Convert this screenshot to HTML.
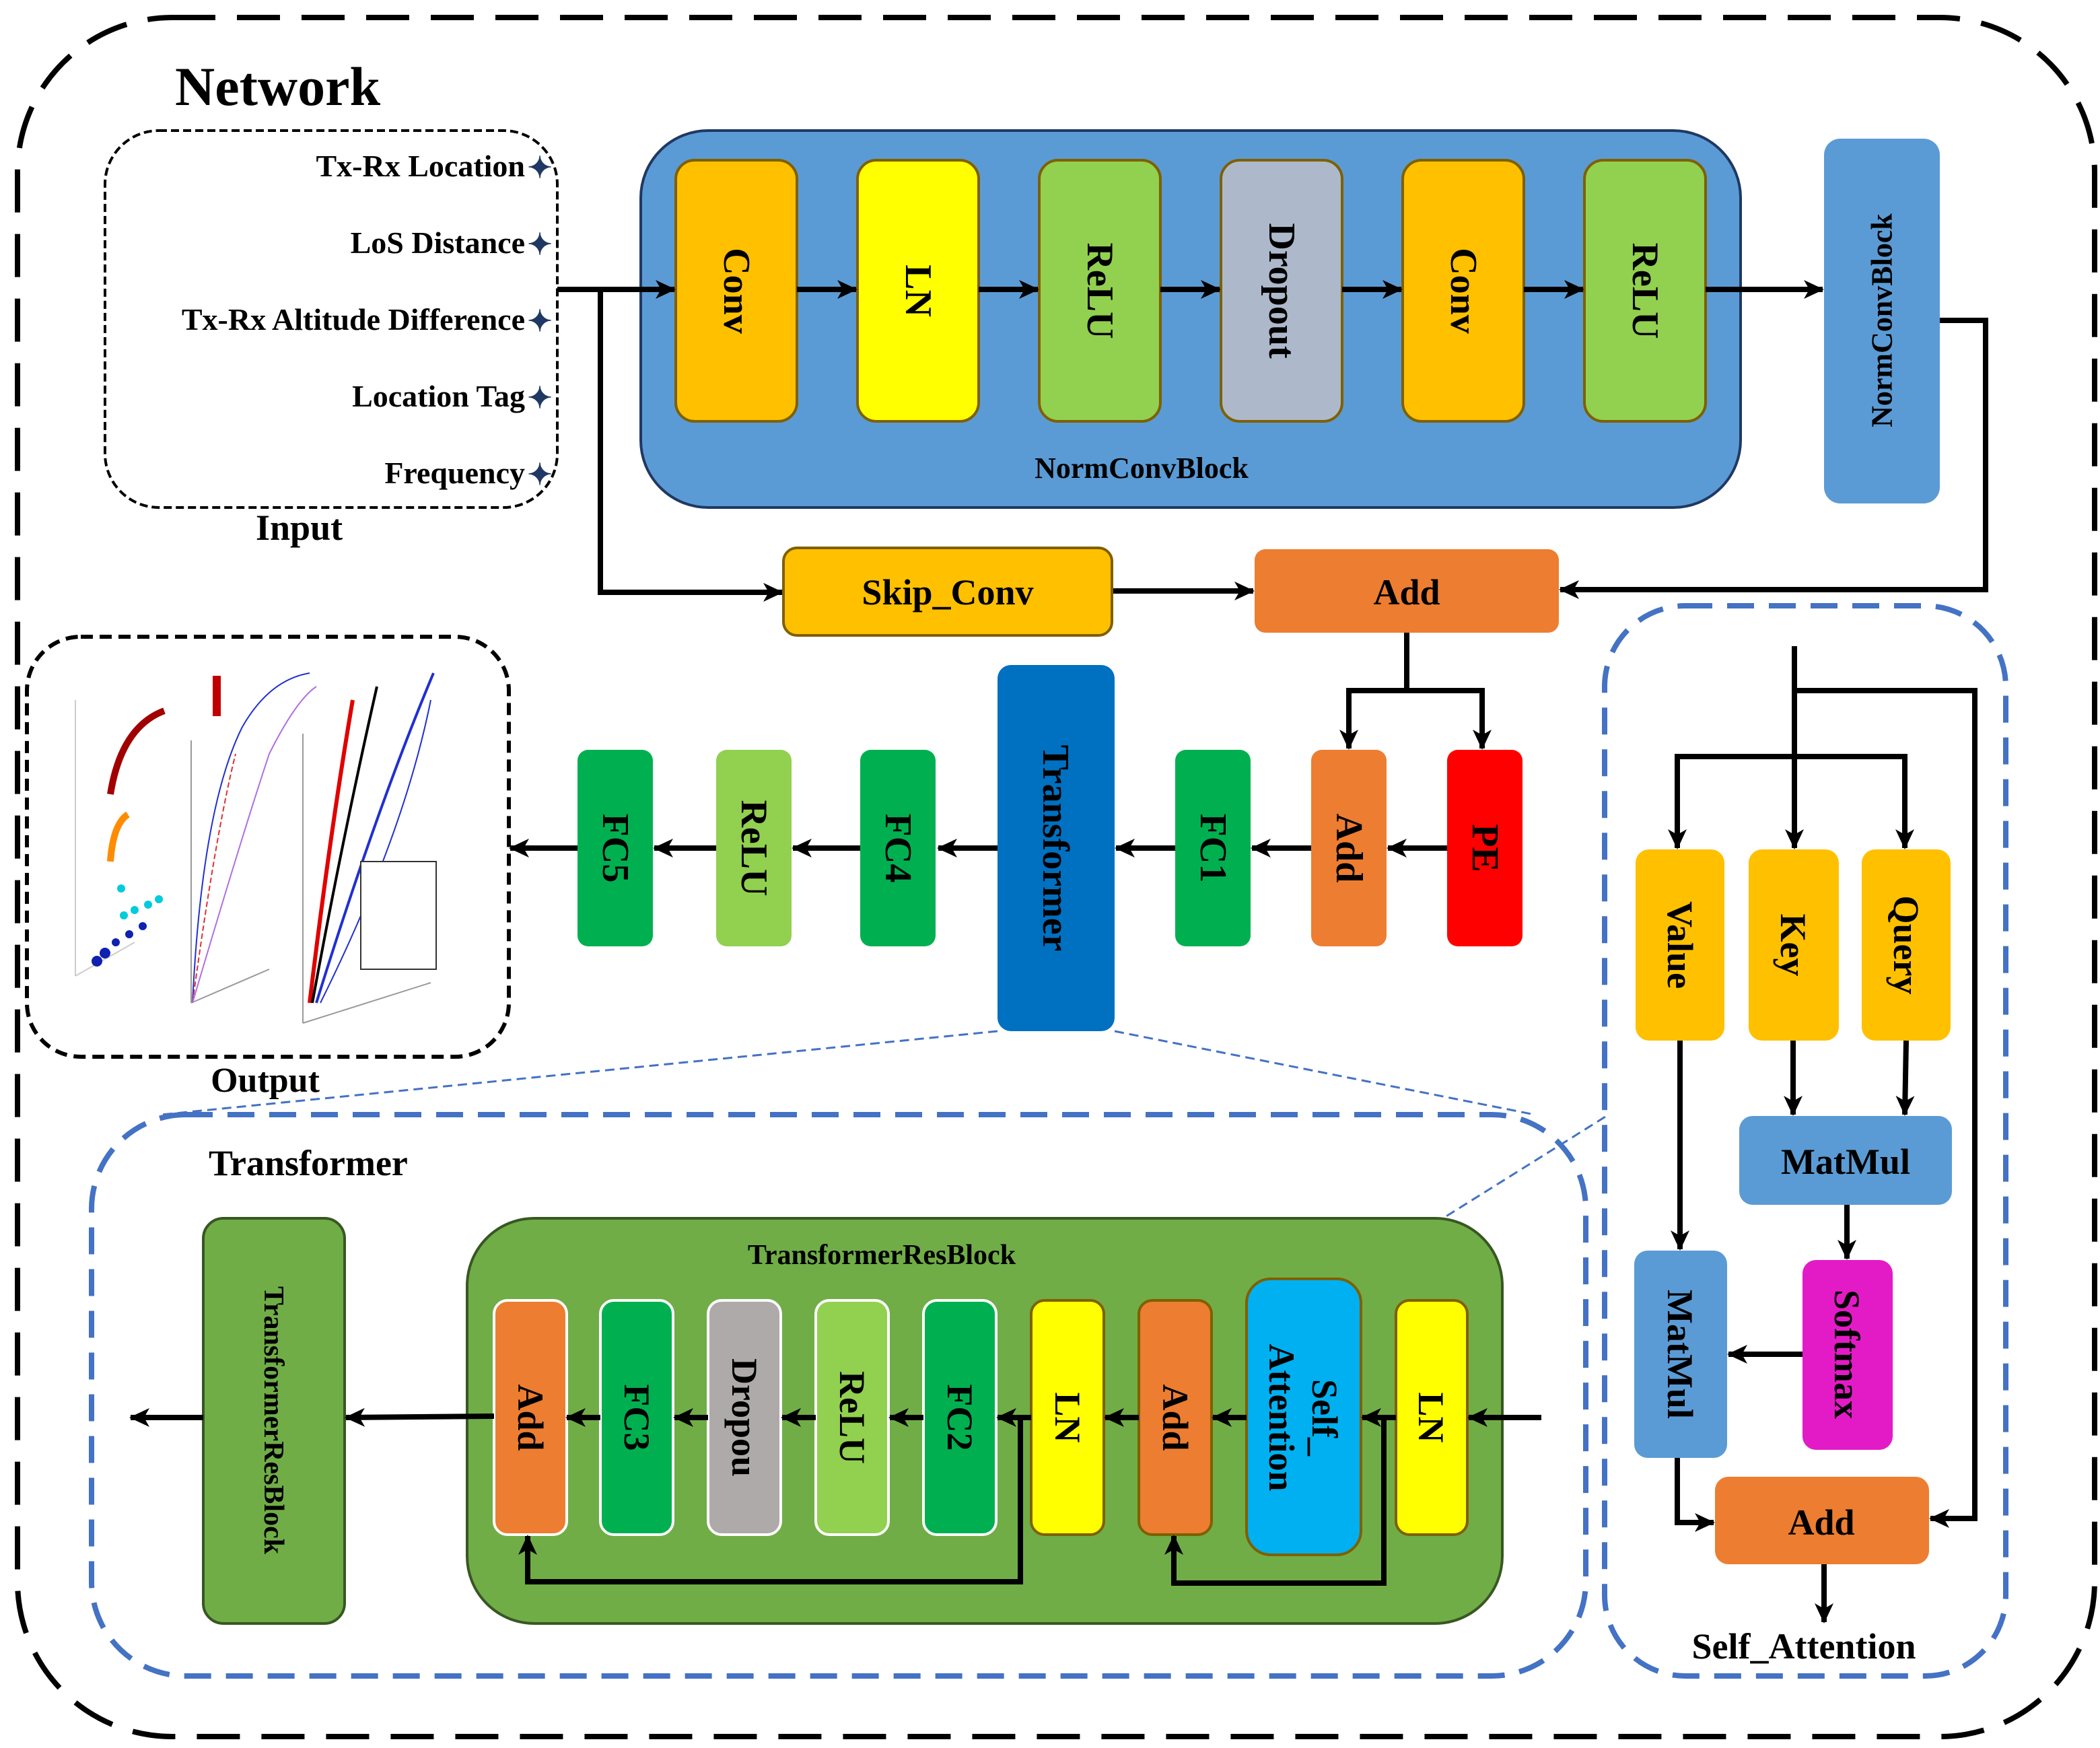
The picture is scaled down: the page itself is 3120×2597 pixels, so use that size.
<!DOCTYPE html>
<html><head><meta charset="utf-8"><style>html,body{margin:0;padding:0;background:#fff}svg{display:block}</style></head>
<body>
<svg width="3120" height="2597" viewBox="0 0 1560 1298.5" xmlns="http://www.w3.org/2000/svg" font-family="Liberation Serif, serif" font-weight="bold">
<defs>
<marker id="a" markerUnits="userSpaceOnUse" markerWidth="16" markerHeight="16" refX="14" refY="8" orient="auto"><path d="M0,1 L15,8 L0,15 L4,8 Z" fill="#000"/></marker>
</defs>
<rect x="0" y="0" width="1560" height="1298.5" fill="#fff"/>
<!-- outer -->
<rect x="13" y="13" width="1543" height="1277" rx="115" fill="none" stroke="#000" stroke-width="4" stroke-dasharray="32,16"/>
<text x="130" y="78" font-size="41">Network</text>

<!-- input -->
<rect x="78" y="97" width="336" height="280" rx="40" fill="none" stroke="#000" stroke-width="2" stroke-dasharray="6,3"/>
<g font-size="23" text-anchor="end">
<text x="390" y="131">Tx-Rx Location</text>
<text x="390" y="188">LoS Distance</text>
<text x="390" y="245">Tx-Rx Altitude Difference</text>
<text x="390" y="302">Location Tag</text>
<text x="390" y="359">Frequency</text>
</g>
<g fill="#1f3864" font-size="22" text-anchor="middle">
<text x="401" y="132">✦</text><text x="401" y="189">✦</text><text x="401" y="246">✦</text><text x="401" y="303">✦</text><text x="401" y="360">✦</text>
</g>
<text x="190" y="401" font-size="27">Input</text>

<!-- normconv -->
<rect x="476" y="97" width="817" height="280" rx="50" fill="#5b9bd5" stroke="#203864" stroke-width="2"/>
<text x="848" y="355" font-size="22" text-anchor="middle">NormConvBlock</text>
<g stroke="#7f6000" stroke-width="2">
<rect x="502" y="119" width="90" height="194" rx="14" fill="#ffc000"/>
<rect x="637" y="119" width="90" height="194" rx="14" fill="#ffff00"/>
<rect x="772" y="119" width="90" height="194" rx="14" fill="#92d050"/>
<rect x="907" y="119" width="90" height="194" rx="14" fill="#adb9ca"/>
<rect x="1042" y="119" width="90" height="194" rx="14" fill="#ffc000"/>
<rect x="1177" y="119" width="90" height="194" rx="14" fill="#92d050"/>
</g>
<g font-size="28" text-anchor="middle" dominant-baseline="central">
<text transform="translate(547,216) rotate(90)">Conv</text>
<text transform="translate(682,216) rotate(90)">LN</text>
<text transform="translate(817,216) rotate(90)">ReLU</text>
<text transform="translate(952,216) rotate(90)">Dropout</text>
<text transform="translate(1087,216) rotate(90)">Conv</text>
<text transform="translate(1222,216) rotate(90)">ReLU</text>
</g>
<rect x="1355" y="103" width="86" height="271" rx="12" fill="#5b9bd5"/>
<text transform="translate(1398,238) rotate(-90)" font-size="22" text-anchor="middle" dominant-baseline="central">NormConvBlock</text>

<g stroke="#000" stroke-width="4" fill="none" marker-end="url(#a)">
<line x1="414" y1="215" x2="501" y2="215"/>
<line x1="592" y1="215" x2="636" y2="215"/>
<line x1="727" y1="215" x2="771" y2="215"/>
<line x1="862" y1="215" x2="906" y2="215"/>
<line x1="997" y1="215" x2="1041" y2="215"/>
<line x1="1132" y1="215" x2="1176" y2="215"/>
<line x1="1267" y1="215" x2="1354" y2="215"/>
<polyline points="446,215 446,440 581,440"/>
<polyline points="1441,238 1475,238 1475,438 1159,438"/>
<line x1="826" y1="439" x2="931" y2="439"/>
<polyline points="1045,470 1045,513 1002,513 1002,556"/>
<polyline points="1045,513 1101,513 1101,556"/>
<line x1="1075" y1="630" x2="1031" y2="630"/>
<line x1="974" y1="630" x2="930" y2="630"/>
<line x1="873" y1="630" x2="829" y2="630"/>
<line x1="741" y1="630" x2="697" y2="630"/>
<line x1="639" y1="630" x2="589" y2="630"/>
<line x1="532" y1="630" x2="486" y2="630"/>
<line x1="429" y1="630" x2="379" y2="630"/>
</g>

<rect x="582" y="407" width="244" height="65" rx="10" fill="#ffc000" stroke="#7f6000" stroke-width="2"/>
<text x="704" y="449" font-size="27" text-anchor="middle">Skip_Conv</text>
<rect x="932" y="408" width="226" height="62" rx="8" fill="#ed7d31"/>
<text x="1045" y="449" font-size="27" text-anchor="middle">Add</text>

<rect x="974" y="557" width="56" height="146" rx="8" fill="#ed7d31"/>
<rect x="1075" y="557" width="56" height="146" rx="8" fill="#ff0000"/>
<rect x="873" y="557" width="56" height="146" rx="8" fill="#00b050"/>
<rect x="741" y="494" width="87" height="272" rx="10" fill="#0070c0"/>
<rect x="639" y="557" width="56" height="146" rx="8" fill="#00b050"/>
<rect x="532" y="557" width="56" height="146" rx="8" fill="#92d050"/>
<rect x="429" y="557" width="56" height="146" rx="8" fill="#00b050"/>
<g font-size="28" text-anchor="middle" dominant-baseline="central">
<text transform="translate(1002,630) rotate(90)">Add</text>
<text transform="translate(1103,630) rotate(90)">PE</text>
<text transform="translate(901,630) rotate(90)">FC1</text>
<text transform="translate(784,630) rotate(90)">Transformer</text>
<text transform="translate(667,630) rotate(90)">FC4</text>
<text transform="translate(560,630) rotate(90)">ReLU</text>
<text transform="translate(457,630) rotate(90)">FC5</text>
</g>

<!-- output -->
<rect x="20" y="473" width="358" height="312" rx="40" fill="none" stroke="#000" stroke-width="3" stroke-dasharray="9,5"/>
<g fill="none" stroke-width="1">
<polyline points="56,725 56,520 " stroke="#ccc"/>
<polyline points="56,725 100,700" stroke="#ccc"/>
<path d="M82,590 Q90,540 122,528" stroke="#a00000" stroke-width="5"/>
<path d="M82,640 Q84,612 95,605" stroke="#ff8c00" stroke-width="5"/>
<g fill="#00ccdd" stroke="none"><circle cx="92" cy="680" r="3"/><circle cx="100" cy="676" r="3"/><circle cx="110" cy="672" r="3"/><circle cx="118" cy="668" r="3"/><circle cx="90" cy="660" r="3"/></g>
<g fill="#1020b0" stroke="none"><circle cx="72" cy="714" r="4"/><circle cx="78" cy="708" r="4"/><circle cx="86" cy="700" r="3"/><circle cx="96" cy="694" r="3"/><circle cx="106" cy="688" r="3"/></g>
<rect x="158" y="502" width="6" height="30" fill="#c00000" stroke="none"/>
<polyline points="142,550 142,745" stroke="#999"/>
<polyline points="142,745 200,720" stroke="#999"/>
<path d="M143,745 Q150,600 180,540 Q200,505 230,500" stroke="#2030d0"/>
<path d="M143,745 Q160,620 175,560" stroke="#e03030" stroke-dasharray="4,2"/>
<path d="M143,745 Q180,620 200,560 Q220,520 235,510" stroke="#b070e0"/>
<polyline points="225,545 225,760" stroke="#999"/>
<polyline points="225,760 320,730" stroke="#999"/>
<path d="M230,745 Q245,620 262,520" stroke="#e00000" stroke-width="3"/>
<path d="M232,745 Q255,620 280,510" stroke="#000" stroke-width="2"/>
<path d="M235,745 Q280,600 322,500" stroke="#2030d0" stroke-width="2"/>
<path d="M238,745 Q300,620 320,520" stroke="#2030d0"/>
<rect x="268" y="640" width="56" height="80" fill="#fff" stroke="#333"/>
</g>
<text x="197" y="811" font-size="26" text-anchor="middle">Output</text>

<!-- blue dashed connectors -->
<g stroke="#4472c4" stroke-width="1.5" stroke-dasharray="7,4" fill="none">
<line x1="741" y1="766" x2="120" y2="828"/>
<line x1="828" y1="766" x2="1140" y2="828"/>
<line x1="1000" y1="950" x2="1195" y2="828"/>
</g>

<!-- transformer box -->
<rect x="68" y="828" width="1110" height="417" rx="70" fill="none" stroke="#4472c4" stroke-width="4" stroke-dasharray="20,11"/>
<text x="155" y="873" font-size="27">Transformer</text>
<rect x="151" y="905" width="105" height="301" rx="15" fill="#70ad47" stroke="#385723" stroke-width="2"/>
<text transform="translate(203,1055) rotate(90)" font-size="21" text-anchor="middle" dominant-baseline="central">TransformerResBlock</text>
<rect x="347" y="905" width="769" height="301" rx="50" fill="#70ad47" stroke="#385723" stroke-width="2"/>
<text x="655" y="939" font-size="21" text-anchor="middle">TransformerResBlock</text>
<g stroke="#fff" stroke-width="2">
<rect x="367" y="966" width="54" height="174" rx="10" fill="#ed7d31"/>
<rect x="446" y="966" width="54" height="174" rx="10" fill="#00b050"/>
<rect x="526" y="966" width="54" height="174" rx="10" fill="#aeaaaa"/>
<rect x="606" y="966" width="54" height="174" rx="10" fill="#92d050"/>
<rect x="686" y="966" width="54" height="174" rx="10" fill="#00b050"/>
</g>
<g stroke="#7f6000" stroke-width="2">
<rect x="766" y="966" width="54" height="174" rx="10" fill="#ffff00"/>
<rect x="846" y="966" width="54" height="174" rx="10" fill="#ed7d31"/>
<rect x="926" y="950" width="85" height="205" rx="18" fill="#00b0f0"/>
<rect x="1037" y="966" width="53" height="174" rx="10" fill="#ffff00"/>
</g>
<g font-size="27" text-anchor="middle" dominant-baseline="central">
<text transform="translate(394,1053) rotate(90)">Add</text>
<text transform="translate(473,1053) rotate(90)">FC3</text>
<text transform="translate(553,1053) rotate(90)">Dropou</text>
<text transform="translate(633,1053) rotate(90)">ReLU</text>
<text transform="translate(713,1053) rotate(90)">FC2</text>
<text transform="translate(793,1053) rotate(90)">LN</text>
<text transform="translate(873,1053) rotate(90)">Add</text>
<text transform="translate(984,1053) rotate(90)">Self_</text>
<text transform="translate(952,1053) rotate(90)">Attention</text>
<text transform="translate(1063,1053) rotate(90)">LN</text>
</g>
<g stroke="#000" stroke-width="4" fill="none" marker-end="url(#a)">
<line x1="1145" y1="1053" x2="1091" y2="1053"/>
<line x1="1037" y1="1053" x2="1012" y2="1053"/>
<line x1="926" y1="1053" x2="901" y2="1053"/>
<line x1="846" y1="1053" x2="821" y2="1053"/>
<line x1="766" y1="1053" x2="741" y2="1053"/>
<line x1="686" y1="1053" x2="661" y2="1053"/>
<line x1="606" y1="1053" x2="581" y2="1053"/>
<line x1="526" y1="1053" x2="501" y2="1053"/>
<line x1="446" y1="1053" x2="421" y2="1053"/>
<line x1="367" y1="1052" x2="257" y2="1053"/>
<line x1="151" y1="1053" x2="97" y2="1053"/>
<polyline points="1028,1053 1028,1176 872,1176 872,1141"/>
<polyline points="758,1053 758,1175 392,1175 392,1141"/>
</g>

<!-- self attention -->
<rect x="1192" y="450" width="298" height="795" rx="60" fill="none" stroke="#4472c4" stroke-width="4" stroke-dasharray="20,11"/>
<text x="1340" y="1232" font-size="27" text-anchor="middle">Self_Attention</text>
<rect x="1215" y="631" width="66" height="142" rx="10" fill="#ffc000"/>
<rect x="1299" y="631" width="67" height="142" rx="10" fill="#ffc000"/>
<rect x="1383" y="631" width="66" height="142" rx="10" fill="#ffc000"/>
<rect x="1292" y="829" width="158" height="66" rx="10" fill="#5b9bd5"/>
<rect x="1339" y="936" width="67" height="141" rx="10" fill="#e31bc7"/>
<rect x="1214" y="929" width="69" height="154" rx="10" fill="#5b9bd5"/>
<rect x="1274" y="1097" width="159" height="65" rx="10" fill="#ed7d31"/>
<g font-size="27" text-anchor="middle" dominant-baseline="central">
<text transform="translate(1248,702) rotate(90)">Value</text>
<text transform="translate(1332,702) rotate(90)">Key</text>
<text transform="translate(1416,702) rotate(90)">Query</text>
<text transform="translate(1372,1006) rotate(90)">Softmax</text>
<text transform="translate(1248,1006) rotate(90)">MatMul</text>
</g>
<text x="1371" y="872" font-size="27" text-anchor="middle">MatMul</text>
<text x="1353" y="1140" font-size="27" text-anchor="middle">Add</text>
<g stroke="#000" stroke-width="4" fill="none" marker-end="url(#a)">
<line x1="1333" y1="480" x2="1333" y2="630"/>
<polyline points="1333,562 1246,562 1246,630"/>
<polyline points="1333,562 1415,562 1415,630"/>
<polyline points="1333,513 1467,513 1467,1128 1434,1128"/>
<line x1="1332" y1="773" x2="1332" y2="828"/>
<line x1="1416" y1="773" x2="1415" y2="828"/>
<line x1="1372" y1="895" x2="1372" y2="935"/>
<line x1="1339" y1="1006" x2="1284" y2="1006"/>
<line x1="1248" y1="773" x2="1248" y2="928"/>
<polyline points="1246,1083 1246,1131 1273,1131"/>
<line x1="1355" y1="1162" x2="1355" y2="1205"/>
</g>
</svg>
</body></html>
